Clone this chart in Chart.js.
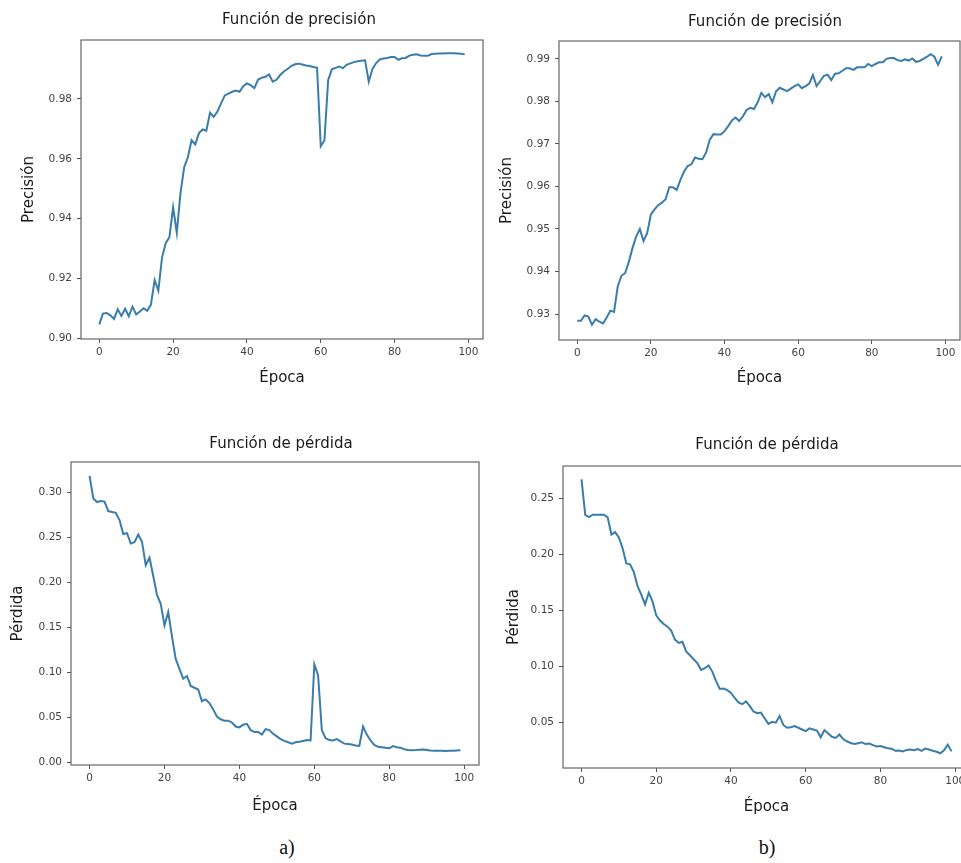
<!DOCTYPE html>
<html>
<head>
<meta charset="utf-8">
<script src="https://cdn.jsdelivr.net/npm/chart.js@4"></script>
<style>
  html, body { margin: 0; padding: 0; background: #ffffff; overflow: hidden; width: 961px; height: 863px; }
  .pane { position: absolute; }
  .cap { position: absolute; font-family: "Liberation Serif", "DejaVu Serif", serif; font-size: 20px; color: #111; transform: translate(-50%, -50%); white-space: nowrap; }
</style>
</head>
<body>
<canvas id="cA1" class="pane" width="490" height="400" style="left:0px;top:0px;"></canvas>
<canvas id="cB1" class="pane" width="495" height="400" style="left:480px;top:0px;"></canvas>
<canvas id="cA2" class="pane" width="490" height="410" style="left:0px;top:420px;"></canvas>
<canvas id="cB2" class="pane" width="510" height="410" style="left:480px;top:420px;"></canvas>
<div class="cap" style="left:287px;top:847px;">a)</div>
<div class="cap" style="left:767px;top:847px;">b)</div>
<script>
// ---------------- DATA ----------------
const epochs = [0,1,2,3,4,5,6,7,8,9,10,11,12,13,14,15,16,17,18,19,20,21,22,23,24,25,26,27,28,29,30,31,32,33,34,35,36,37,38,39,40,41,42,43,44,45,46,47,48,49,50,51,52,53,54,55,56,57,58,59,60,61,62,63,64,65,66,67,68,69,70,71,72,73,74,75,76,77,78,79,80,81,82,83,84,85,86,87,88,89,90,91,92,93,94,95,96,97,98,99];

const precisionA = [
 0.9047,0.9083,0.9085,0.9077,0.9065,0.9097,0.9075,0.9099,0.9074,0.9106,
 0.9080,0.9090,0.9101,0.9092,0.9113,0.9195,0.9160,0.9270,0.9318,0.9338,
 0.9438,0.9353,0.9485,0.9572,0.9605,0.9662,0.9648,0.9686,0.9698,0.9694,
 0.9754,0.9740,0.9758,0.9785,0.9812,0.9818,0.9824,0.9828,0.9824,0.9843,
 0.9852,0.9846,0.9836,0.9864,0.9871,0.9874,0.9882,0.9858,0.9864,0.9880,
 0.9892,0.9900,0.9910,0.9916,0.9918,0.9915,0.9912,0.9910,0.9907,0.9904,
 0.9642,0.9662,0.9863,0.9899,0.9904,0.9908,0.9903,0.9914,0.9919,0.9923,
 0.9926,0.9928,0.9929,0.9858,0.9900,0.9920,0.9932,0.9935,0.9937,0.9940,
 0.9940,0.9931,0.9936,0.9937,0.9945,0.9948,0.9949,0.9945,0.9944,0.9944,
 0.9950,0.9951,0.9952,0.9952,0.9953,0.9953,0.9953,0.9952,0.9951,0.9949
];

const precisionB = [
 0.9284,0.9284,0.9297,0.9294,0.9275,0.9288,0.9282,0.9278,0.9292,0.9308,
 0.9305,0.9365,0.9390,0.9396,0.9422,0.9455,0.9482,0.9500,0.9472,0.9490,
 0.9534,0.9546,0.9556,0.9562,0.9570,0.9598,0.9598,0.9592,0.9615,0.9635,
 0.9648,0.9652,0.9668,0.9665,0.9664,0.9680,0.9710,0.9723,0.9722,0.9722,
 0.9730,0.9742,0.9755,0.9762,0.9754,0.9765,0.9780,0.9785,0.9782,0.9798,
 0.9820,0.9810,0.9817,0.9798,0.9824,0.9832,0.9828,0.9824,0.9830,0.9836,
 0.9840,0.9831,0.9836,0.9842,0.9862,0.9836,0.9848,0.9860,0.9863,0.9850,
 0.9865,0.9866,0.9872,0.9878,0.9878,0.9874,0.9880,0.9880,0.9880,0.9888,
 0.9883,0.9888,0.9892,0.9892,0.9900,0.9902,0.9902,0.9897,0.9895,0.9899,
 0.9896,0.9901,0.9893,0.9895,0.9900,0.9905,0.9911,0.9905,0.9886,0.9906
];

const lossA = [
 0.3180,0.2930,0.2890,0.2900,0.2895,0.2790,0.2780,0.2770,0.2690,0.2535,
 0.2545,0.2430,0.2445,0.2530,0.2450,0.2190,0.2275,0.2070,0.1860,0.1760,
 0.1520,0.1670,0.1400,0.1150,0.1040,0.0930,0.0960,0.0850,0.0830,0.0810,
 0.0680,0.0700,0.0660,0.0590,0.0510,0.0480,0.0465,0.0465,0.0445,0.0400,
 0.0390,0.0420,0.0430,0.0360,0.0340,0.0340,0.0310,0.0370,0.0360,0.0320,
 0.0290,0.0260,0.0240,0.0225,0.0210,0.0225,0.0230,0.0240,0.0250,0.0245,
 0.1090,0.0970,0.0360,0.0270,0.0250,0.0245,0.0260,0.0235,0.0210,0.0205,
 0.0200,0.0190,0.0185,0.0400,0.0310,0.0245,0.0195,0.0175,0.0170,0.0165,
 0.0158,0.0182,0.0170,0.0165,0.0148,0.0140,0.0136,0.0138,0.0142,0.0145,
 0.0140,0.0133,0.0130,0.0130,0.0130,0.0127,0.0132,0.0130,0.0135,0.0137
];

const lossB = [
 0.2666,0.2349,0.2330,0.2352,0.2350,0.2352,0.2352,0.2328,0.2175,0.2197,
 0.2150,0.2052,0.1918,0.1910,0.1840,0.1715,0.1640,0.1553,0.1657,0.1580,
 0.1455,0.1410,0.1378,0.1355,0.1320,0.1240,0.1210,0.1220,0.1135,0.1100,
 0.1065,0.1030,0.0970,0.0985,0.1010,0.0955,0.0870,0.0800,0.0804,0.0790,
 0.0765,0.0720,0.0680,0.0665,0.0690,0.0650,0.0600,0.0585,0.0590,0.0540,
 0.0490,0.0508,0.0500,0.0560,0.0480,0.0455,0.0460,0.0470,0.0455,0.0440,
 0.0425,0.0450,0.0440,0.0430,0.0370,0.0435,0.0405,0.0375,0.0365,0.0395,
 0.0355,0.0335,0.0320,0.0310,0.0318,0.0325,0.0310,0.0315,0.0300,0.0288,
 0.0292,0.0282,0.0272,0.0268,0.0250,0.0252,0.0245,0.0258,0.0262,0.0256,
 0.0265,0.0250,0.0270,0.0262,0.0250,0.0242,0.0228,0.0255,0.0305,0.0245
];

const xTicks = [0, 20, 40, 60, 80, 100];
const yTicksPrecisionA = [0.90, 0.92, 0.94, 0.96, 0.98];
const yTicksPrecisionB = [0.93, 0.94, 0.95, 0.96, 0.97, 0.98, 0.99];
const yTicksLossA = [0.00, 0.05, 0.10, 0.15, 0.20, 0.25, 0.30];
const yTicksLossB = [0.05, 0.10, 0.15, 0.20, 0.25];

const titlePrecision = "Función de precisión";
const titleLoss = "Función de pérdida";
const xLabel = "Época";
const yLabelPrecision = "Precisión";
const yLabelLoss = "Pérdida";

// ---------------- STYLE / LAYOUT ----------------
const LINE_COLOR = '#3a7dab';
const FRAME_COLOR = '#666666';
const FONT = '"DejaVu Sans", sans-serif';

const framePlugin = {
  id: 'frame',
  afterDatasetsDraw(chart) {
    const {left, top, right, bottom} = chart.chartArea;
    const ctx = chart.ctx;
    ctx.save();
    ctx.strokeStyle = FRAME_COLOR;
    ctx.lineWidth = 1.2;
    ctx.strokeRect(left, top, right - left, bottom - top);
    ctx.restore();
  }
};

const titleShiftPlugin = {
  id: 'titleShift',
  afterLayout(chart, args, opts) {
    const tb = chart.titleBlock;
    if (!tb || opts.center == null) return;
    const dx = opts.center - (tb.left + tb.right) / 2;
    tb.left += dx;
    tb.right += dx;
  }
};

function makePanel(id, L, data) {
  // L: layout in page px: canvas {x,y,w,h}, area {l,t,r,b}, titleCX, titleCY, yTitleCX, xTitleCY
  const fs = 15, lh = fs * 1.2;
  const titlePadTop = L.titleCY - L.y - lh / 2;
  const titlePadBottom = (L.area.t - L.y) - lh - titlePadTop;
  const yAxisWidth = L.area.l - L.x;
  const xAxisHeight = (L.y + L.h) - L.area.b;
  const yTitlePad = L.yTitleCX - L.x - lh / 2;
  const xTitlePad = (L.y + L.h) - L.xTitleCY - lh / 2;
  const padRight = (L.x + L.w) - L.area.r;

  new Chart(document.getElementById(id), {
    type: 'line',
    data: {
      labels: epochs,
      datasets: [{
        data: data.values,
        borderColor: LINE_COLOR,
        borderWidth: 2,
        pointRadius: 0,
        tension: 0,
        fill: false
      }]
    },
    options: {
      responsive: false,
      animation: false,
      devicePixelRatio: 1,
      layout: { padding: { left: 0, top: 0, right: padRight, bottom: 0 } },
      plugins: {
        legend: { display: false },
        tooltip: { enabled: false },
        title: {
          display: true,
          text: data.title,
          color: '#1a1a1a',
          font: { family: FONT, size: fs, weight: 'normal', lineHeight: 1.2 },
          padding: { top: titlePadTop, bottom: titlePadBottom }
        },
        titleShift: { center: L.titleCX - L.x }
      },
      scales: {
        x: {
          type: 'linear',
          min: -4.95,
          max: 103.95,
          afterBuildTicks: s => { s.ticks = xTicks.map(v => ({value: v})); },
          afterFit: s => { s.height = xAxisHeight; },
          ticks: {
            color: '#444',
            font: { family: FONT, size: 10.5 },
            padding: 3,
            maxRotation: 0,
            autoSkip: false,
            callback: v => String(v)
          },
          grid: { display: true, drawOnChartArea: false, drawTicks: true, tickLength: 4, tickColor: '#555', tickWidth: 1 },
          border: { display: false },
          title: {
            display: true,
            text: xLabel,
            color: '#1a1a1a',
            font: { family: FONT, size: fs, lineHeight: 1.2 },
            padding: { top: 0, bottom: xTitlePad }
          }
        },
        y: {
          type: 'linear',
          min: data.yMin,
          max: data.yMax,
          afterBuildTicks: s => { s.ticks = data.yTicks.map(v => ({value: v})); },
          afterFit: s => { s.width = yAxisWidth; },
          ticks: {
            color: '#444',
            font: { family: FONT, size: 10.5 },
            padding: 5,
            autoSkip: false,
            callback: v => Number(v).toFixed(2)
          },
          grid: { display: true, drawOnChartArea: false, drawTicks: true, tickLength: 4, tickColor: '#555', tickWidth: 1 },
          border: { display: false },
          title: {
            display: true,
            text: data.yLabel,
            color: '#1a1a1a',
            font: { family: FONT, size: fs, lineHeight: 1.2 },
            padding: { top: yTitlePad, bottom: 0 }
          }
        }
      }
    },
    plugins: [framePlugin, titleShiftPlugin]
  });
}

makePanel('cA1',
  { x: 0, y: 0, w: 490, h: 400, area: { l: 81, t: 40, r: 483, b: 339 }, titleCX: 299, titleCY: 20, yTitleCX: 29, xTitleCY: 378 },
  { values: precisionA, title: titlePrecision, yLabel: yLabelPrecision, yTicks: yTicksPrecisionA, yMin: 0.8998, yMax: 0.9997 });

makePanel('cB1',
  { x: 480, y: 0, w: 495, h: 400, area: { l: 559, t: 41, r: 960, b: 340 }, titleCX: 765, titleCY: 22, yTitleCX: 507, xTitleCY: 378 },
  { values: precisionB, title: titlePrecision, yLabel: yLabelPrecision, yTicks: yTicksPrecisionB, yMin: 0.9239, yMax: 0.9942 });

makePanel('cA2',
  { x: 0, y: 420, w: 490, h: 410, area: { l: 71, t: 462, r: 479, b: 765 }, titleCX: 281, titleCY: 444, yTitleCX: 18, xTitleCY: 806 },
  { values: lossA, title: titleLoss, yLabel: yLabelLoss, yTicks: yTicksLossA, yMin: -0.0027, yMax: 0.3334 });

makePanel('cB2',
  { x: 480, y: 420, w: 510, h: 410, area: { l: 563, t: 466, r: 970, b: 768 }, titleCX: 767, titleCY: 445, yTitleCX: 514, xTitleCY: 807 },
  { values: lossB, title: titleLoss, yLabel: yLabelLoss, yTicks: yTicksLossB, yMin: 0.0097, yMax: 0.2785 });
</script>
</body>
</html>
